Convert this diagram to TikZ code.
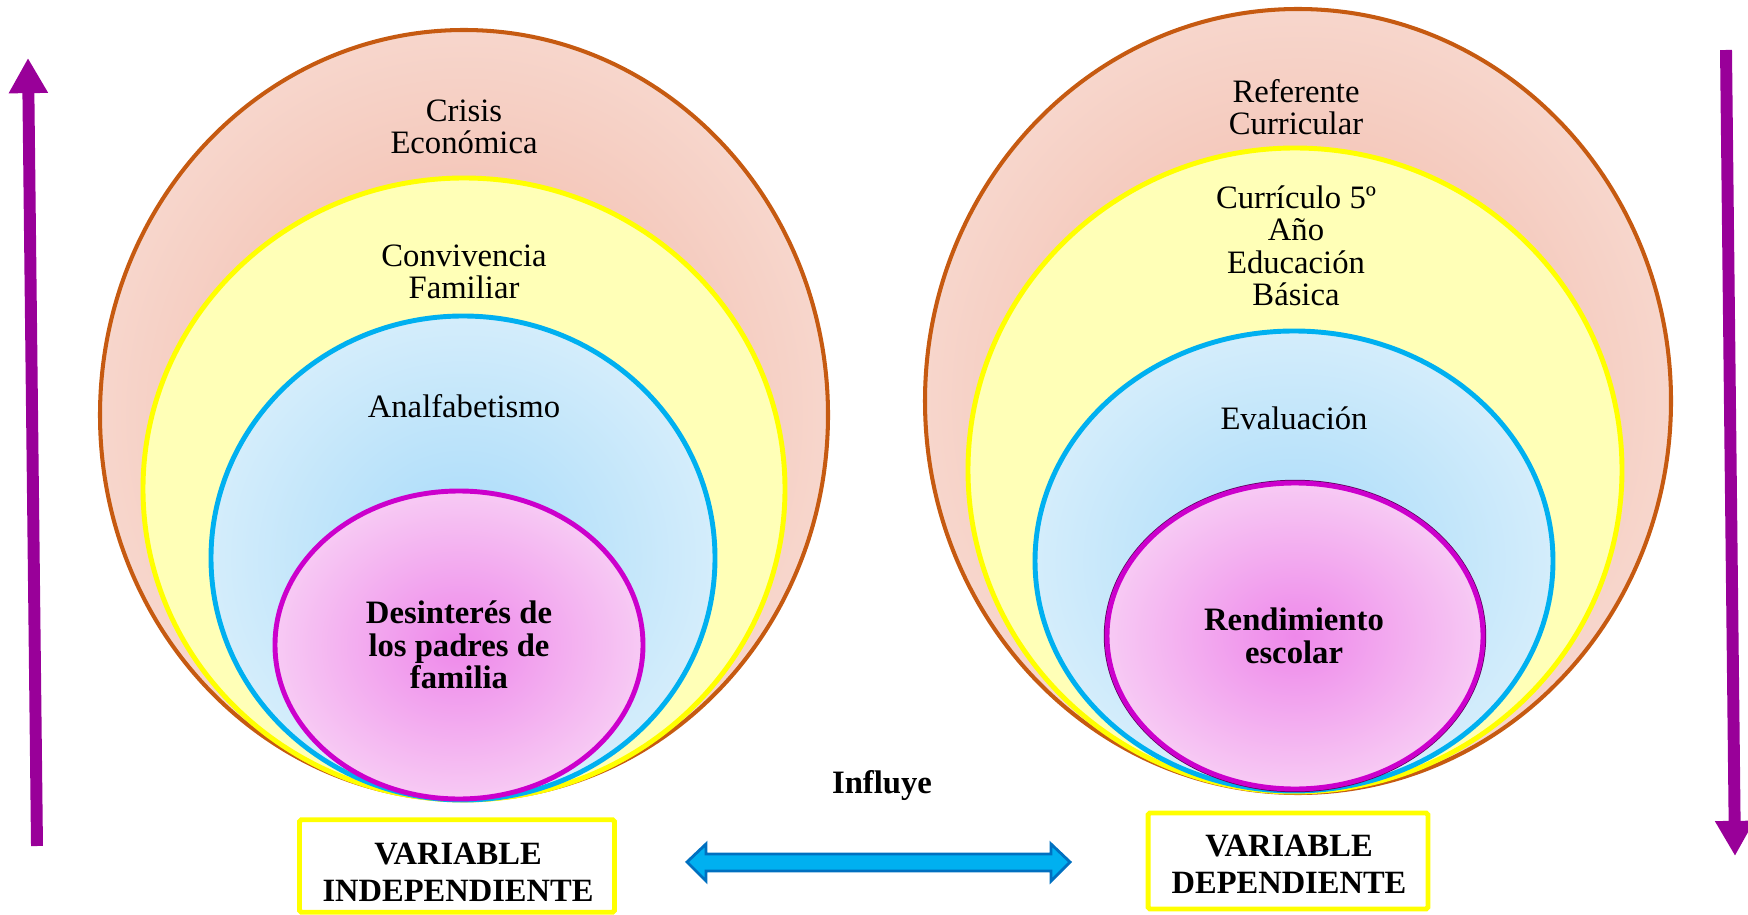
\documentclass[tikz,border=0pt]{standalone}
\usepackage{fontspec}
\setmainfont{Liberation Serif}
\usetikzlibrary{arrows.meta,calc}
\definecolor{orbord}{RGB}{198,90,17}
\definecolor{orin}{RGB}{240,178,160}
\definecolor{orout}{RGB}{247,214,204}
\definecolor{yebord}{RGB}{255,255,0}
\definecolor{yefill}{RGB}{255,255,183}
\definecolor{blbord}{RGB}{0,176,240}
\definecolor{blin}{RGB}{166,218,249}
\definecolor{blout}{RGB}{212,237,251}
\definecolor{mabord}{RGB}{204,0,204}
\definecolor{main}{RGB}{238,136,234}
\definecolor{maout}{RGB}{247,202,244}
\definecolor{mashadow}{RGB}{90,0,90}
\definecolor{purp}{RGB}{153,0,153}
\definecolor{dbfill}{RGB}{0,176,240}
\definecolor{dbbord}{RGB}{0,112,192}
\begin{document}
\begin{tikzpicture}[x=0.02cm,y=-0.02cm,
  lab/.style={align=center, font=\fontsize{18.6}{18.5}\selectfont, inner sep=0pt},
  blab/.style={align=center, font=\fontsize{18.6}{18.5}\selectfont\bfseries, inner sep=0pt},
  outerell/.style={draw=orbord, line width=2.3pt, inner color=orin, outer color=orout},
  yellowell/.style={draw=yebord, line width=2.8pt, fill=yefill},
  blueell/.style={draw=blbord, line width=2.8pt, inner color=blin, outer color=blout},
  magell/.style={draw=mabord, line width=2.8pt, inner color=main, outer color=maout},
  varbox/.style={draw=yebord, line width=2.8pt, fill=white, rounded corners=1pt, inner sep=0pt},
  vartext/.style={align=center, font=\fontsize{18.5}{21}\selectfont\bfseries, inner sep=0pt},
  purparrow/.style={draw=purp, line width=6.8pt, -{Triangle[length=20pt,width=21pt]}},
  dblarrow/.style={draw=dbbord, line width=1.6pt, fill=dbfill, line join=miter}
]
\useasboundingbox (0,0) rectangle (1748,915);

% left set
\path[outerell] (464,415) ellipse [x radius=364, y radius=385];
\path[yellowell] (464,489) ellipse [x radius=321, y radius=311];
\path[blueell] (463,558) ellipse [x radius=252, y radius=242];
\path[magell] (459,645) ellipse [x radius=184, y radius=154];

% right set
\path[outerell] (1298,401) ellipse [x radius=373, y radius=392];
\path[yellowell] (1295,470) ellipse [x radius=327, y radius=322];
\path[blueell] (1294,561) ellipse [x radius=259, y radius=230];
\path[draw=mashadow, line width=0.8pt] (1295,636) ellipse [x radius=190.5, y radius=155.5];
\path[magell] (1295,636) ellipse [x radius=188, y radius=153];

% left labels
\node[lab] (crisis) at (464,127) {Crisis\\Económica};
\node[lab] (conv) at (464,272) {Convivencia\\Familiar};
\node[lab] (analf) at (464,406) {Analfabetismo};
\node[blab] (desint) at (459,645) {Desinterés de\\los padres de\\familia};

% right labels
\node[lab] (refer) at (1296,107) {Referente\\Curricular};
\node[lab] (curr) at (1296,246) {Currículo 5º\\Año\\Educación\\Básica};
\node[lab] (eval) at (1294,418) {Evaluación};
\node[blab] (rend) at (1294,636) {Rendimiento\\escolar};

% bottom
\node[blab] (influye) at (882,786) {Influye};
\node[varbox, minimum width=6.3cm, minimum height=1.85cm] (vi) at (457,866) {};
\node[vartext] (vitext) at (458,872) {VARIABLE\\INDEPENDIENTE};
\node[varbox, minimum width=5.6cm, minimum height=1.92cm] (vd) at (1288,861) {};
\node[vartext] (vdtext) at (1289,864) {VARIABLE\\DEPENDIENTE};

% double arrow
\coordinate (dl) at (687,862);
\coordinate (dr) at (1070,862);
\draw[dblarrow] (dl) -- ($(dl)+(19,-18)$) -- ($(dl)+(19,-8)$) -- ($(dr)+(-19,-8)$) -- ($(dr)+(-19,-18)$)
  -- (dr) -- ($(dr)+(-19,19)$) -- ($(dr)+(-19,9)$) -- ($(dl)+(19,9)$) -- ($(dl)+(19,19)$) -- cycle;

% purple arrows
\coordinate (lbot) at (37,846);
\coordinate (ltop) at (28,58);
\draw[purparrow] (lbot) -- (ltop);
\coordinate (rtop) at (1726,50);
\coordinate (rbot) at (1735,856);
\draw[purparrow] (rtop) -- (rbot);
\end{tikzpicture}
\end{document}
